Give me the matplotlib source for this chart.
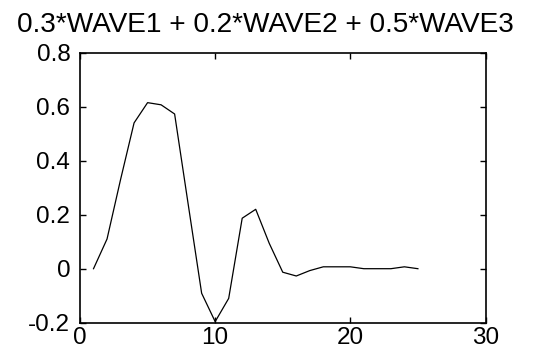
import matplotlib
matplotlib.use("Agg")
import matplotlib.pyplot as plt

x_vals = list(range(1, 26))
y_vals = [0.0, 0.11, 0.33, 0.54, 0.615, 0.607, 0.573, 0.24, -0.091, -0.196,
          -0.11, 0.187, 0.22, 0.094, -0.013, -0.027, -0.007, 0.007, 0.007, 0.007,
          0.0, 0.0, 0.0, 0.007, 0.0]
x_ticks = [0, 10, 20, 30]
y_ticks = [-0.2, 0, 0.2, 0.4, 0.6, 0.8]
y_ticklabels = ["-0.2", "0", "0.2", "0.4", "0.6", "0.8"]
title = "0.3*WAVE1 + 0.2*WAVE2 + 0.5*WAVE3"

plt.rcParams['font.family'] = ['Liberation Sans', 'DejaVu Sans']

fig = plt.figure(figsize=(5.53, 3.51), dpi=100)
ax = fig.add_axes([80/553, 1-322.7/351, 405.5/553, 270/351])
ax.plot(x_vals, y_vals, color='black', linewidth=0.9)
ax.set_xlim(0, 30)
ax.set_ylim(-0.2, 0.8)
ax.set_xticks(x_ticks)
ax.set_xticklabels([str(t) for t in x_ticks])
ax.set_yticks(y_ticks)
ax.set_yticklabels(y_ticklabels)
ax.tick_params(direction='in', top=True, right=True, length=4, width=1,
               labelsize=17.5, pad=7)
ax.tick_params(axis='x', pad=3)
for s in ax.spines.values():
    s.set_linewidth(1.2)
fig.text(265/553, 1-32/351, title, ha='center', va='baseline', fontsize=20.2)
fig.savefig("out.png", dpi=100)
